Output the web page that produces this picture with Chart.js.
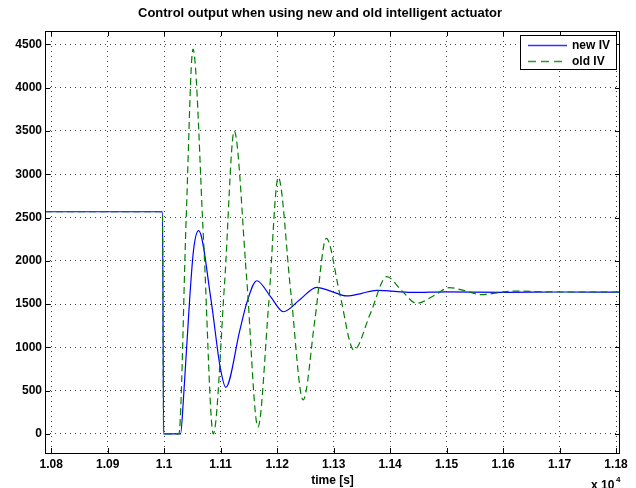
<!DOCTYPE html>
<html>
<head>
<meta charset="utf-8">
<script src="https://cdn.jsdelivr.net/npm/chart.js@4.4.0/dist/chart.umd.min.js"></script>
<style>
  html, body { margin: 0; padding: 0; background: #fff; }
  #wrap { width: 636px; height: 488px; }
</style>
</head>
<body>
<div id="wrap"><canvas id="chart" width="636" height="488"></canvas></div>
<script>
const titleText = "Control output when using new and old intelligent actuator";
const xTitle = "time [s]";
const xTicks = [10800, 10900, 11000, 11100, 11200, 11300, 11400, 11500, 11600, 11700, 11800];
const xTickLabels = ["1.08", "1.09", "1.1", "1.11", "1.12", "1.13", "1.14", "1.15", "1.16", "1.17", "1.18"];
const yTicks = [0, 500, 1000, 1500, 2000, 2500, 3000, 3500, 4000, 4500];
const yTickLabels = ["0", "500", "1000", "1500", "2000", "2500", "3000", "3500", "4000", "4500"];
const seriesNames = ["new IV", "old IV"];

// new intelligent actuator (blue, solid)
const newTime = [10789, 10997, 10999, 11029, 11034, 11045, 11052, 11061, 11083, 11099, 11109,
  11134, 11146, 11164, 11188, 11211, 11240, 11270, 11297, 11323, 11350, 11376,
  11440, 11500, 11600, 11700, 11807];
const newValue = [2567, 2567, 0, 0, 393, 1547, 2125, 2348, 1547, 777, 539,
  1200, 1509, 1770, 1590, 1412, 1550, 1694, 1645, 1594, 1625, 1659,
  1635, 1642, 1636, 1640, 1638];

// old intelligent actuator (green, dashed)
const oldTime = [10789, 10997, 10999, 11026, 11039, 11051, 11070, 11087, 11107, 11124, 11146,
  11166, 11185, 11202, 11224, 11246, 11267, 11287, 11311, 11336, 11365, 11394,
  11420, 11447, 11478, 11505, 11535, 11560, 11620, 11700, 11807];
const oldValue = [2567, 2567, 0, 0, 2500, 4445, 2200, 0, 1750, 3500, 1800,
  80, 1500, 2964, 1650, 393, 1330, 2260, 1615, 970, 1390, 1817,
  1660, 1509, 1600, 1690, 1650, 1610, 1650, 1640, 1640];

const fontFamily = "'Liberation Sans', Arial, Helvetica, sans-serif";
const blue = "#0000ff";
const green = "#008000";

function toPoints(xs, ys) {
  return xs.map((x, i) => ({ x: x, y: ys[i] }));
}

const matlabFrame = {
  id: "matlabFrame",
  afterDraw(chart) {
    const ctx = chart.ctx;
    const a = chart.chartArea;
    const xs = chart.scales.x;
    const ys = chart.scales.y;
    ctx.save();

    // box
    ctx.strokeStyle = "#000";
    ctx.lineWidth = 1;
    ctx.strokeRect(a.left + 0.5, a.top + 0.5, a.right - a.left - 1, a.bottom - a.top);

    // inward tick marks on all four sides
    ctx.beginPath();
    xTicks.forEach(v => {
      const px = Math.round(xs.getPixelForValue(v)) + 0.5;
      ctx.moveTo(px, a.bottom); ctx.lineTo(px, a.bottom - 5);
      ctx.moveTo(px, a.top); ctx.lineTo(px, a.top + 5);
    });
    yTicks.forEach(v => {
      const py = Math.round(ys.getPixelForValue(v)) + 0.5;
      ctx.moveTo(a.left, py); ctx.lineTo(a.left + 5, py);
      ctx.moveTo(a.right, py); ctx.lineTo(a.right - 5, py);
    });
    ctx.stroke();

    // title
    ctx.fillStyle = "#000";
    ctx.font = "bold 13px " + fontFamily;
    ctx.textAlign = "center";
    ctx.textBaseline = "middle";
    ctx.fillText(titleText, 320, 13);

    // exponent
    ctx.font = "bold 12px " + fontFamily;
    ctx.textAlign = "left";
    ctx.textBaseline = "alphabetic";
    ctx.fillText("x 10", 591, 489);
    ctx.font = "bold 8px " + fontFamily;
    ctx.fillText("4", 616, 482);

    // legend
    const lx = 520, ly = 35, lw = 96, lh = 34;
    ctx.fillStyle = "#fff";
    ctx.fillRect(lx, ly, lw, lh);
    ctx.strokeStyle = "#000";
    ctx.strokeRect(lx + 0.5, ly + 0.5, lw, lh);
    const rows = [
      { name: seriesNames[0], color: "#3333ff", dash: [] },
      { name: seriesNames[1], color: "#22a022", dash: [8, 5] }
    ];
    rows.forEach((r, i) => {
      const y = ly + 10 + i * 16;
      ctx.beginPath();
      ctx.setLineDash(r.dash);
      ctx.lineWidth = 1.5;
      ctx.strokeStyle = r.color;
      ctx.moveTo(lx + 8, y + 0.5);
      ctx.lineTo(lx + 47, y + 0.5);
      ctx.stroke();
      ctx.setLineDash([]);
      ctx.fillStyle = "#000";
      ctx.font = "bold 12px " + fontFamily;
      ctx.textBaseline = "middle";
      ctx.fillText(r.name, lx + 52, y + 1);
    });
    ctx.restore();
  }
};

new Chart(document.getElementById("chart").getContext("2d"), {
  type: "line",
  data: {
    datasets: [
      {
        label: seriesNames[0],
        data: toPoints(newTime, newValue),
        borderColor: blue,
        borderWidth: 1.2,
        pointRadius: 0,
        cubicInterpolationMode: "monotone",
        order: 1
      },
      {
        label: seriesNames[1],
        data: toPoints(oldTime, oldValue),
        borderColor: green,
        borderWidth: 1.2,
        borderDash: [7, 4],
        pointRadius: 0,
        cubicInterpolationMode: "monotone",
        order: 0
      }
    ]
  },
  options: {
    responsive: false,
    animation: false,
    layout: { padding: { top: 31, right: 16, left: 0, bottom: 0 } },
    plugins: {
      legend: { display: false },
      tooltip: { enabled: false },
      title: { display: false }
    },
    scales: {
      x: {
        type: "linear",
        min: 10789,
        max: 11807,
        afterBuildTicks: s => { s.ticks = xTicks.map(v => ({ value: v })); },
        afterFit: s => { s.height = 35; },
        ticks: {
          autoSkip: false,
          maxRotation: 0,
          padding: 4,
          color: "#000",
          font: { family: fontFamily, size: 12, weight: "bold" },
          callback: v => xTickLabels[xTicks.indexOf(v)]
        },
        grid: { color: "rgba(0,0,0,0.75)", lineWidth: 1, drawTicks: false },
        border: { display: false, dash: [1, 4] },
        title: {
          display: true,
          text: xTitle,
          color: "#000",
          font: { family: fontFamily, size: 12, weight: "bold" },
          padding: { top: 0, bottom: 0 }
        }
      },
      y: {
        type: "linear",
        min: -220,
        max: 4655,
        afterBuildTicks: s => { s.ticks = yTicks.map(v => ({ value: v })); },
        afterFit: s => { s.width = 45; },
        ticks: {
          padding: 3,
          color: "#000",
          font: { family: fontFamily, size: 12, weight: "bold" },
          callback: v => yTickLabels[yTicks.indexOf(v)]
        },
        grid: { color: "rgba(0,0,0,0.75)", lineWidth: 1, drawTicks: false },
        border: { display: false, dash: [1, 4] }
      }
    }
  },
  plugins: [matlabFrame]
});
</script>
</body>
</html>
